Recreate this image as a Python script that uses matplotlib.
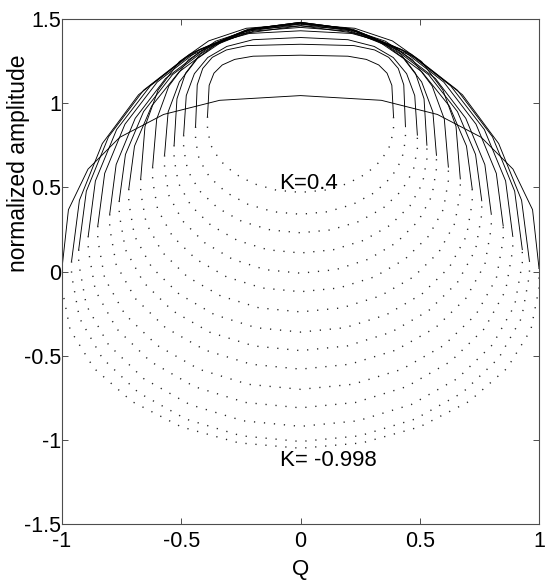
import numpy as np
import matplotlib
matplotlib.use("Agg")
import matplotlib.pyplot as plt

plt.rcParams['font.family'] = ['Liberation Sans', 'DejaVu Sans']
plt.rcParams['axes.unicode_minus'] = False

# ---- data (left half, Q <= 0; every curve is symmetric in Q) ----
# solid (stable) branch of each loop, from its lower end up to Q = 0
solid_Q = [
    [-0.39, -0.383, -0.363, -0.328, -0.276, -0.199, 0.0],
    [-0.44, -0.433, -0.410, -0.370, -0.311, -0.224, 0.0],
    [-0.49, -0.479, -0.445, -0.389, -0.309, -0.199, 0.0],
    [-0.53, -0.518, -0.482, -0.421, -0.334, -0.215, 0.0],
    [-0.57, -0.555, -0.508, -0.432, -0.327, -0.193, 0.0],
    [-0.62, -0.603, -0.552, -0.470, -0.356, -0.210, 0.0],
    [-0.67, -0.652, -0.597, -0.508, -0.385, -0.227, 0.0],
    [-0.72, -0.696, -0.624, -0.509, -0.360, -0.186, 0.0],
    [-0.76, -0.734, -0.658, -0.537, -0.380, -0.197, 0.0],
    [-0.80, -0.773, -0.693, -0.566, -0.400, -0.207, 0.0],
    [-0.85, -0.821, -0.736, -0.601, -0.425, -0.220, 0.0],
    [-0.89, -0.860, -0.771, -0.629, -0.445, -0.231, 0.0],
    [-0.93, -0.898, -0.805, -0.658, -0.465, -0.241, 0.0],
    [-0.96, -0.927, -0.831, -0.679, -0.480, -0.249, 0.0],
    [-1.00, -0.973, -0.891, -0.758, -0.574, -0.339, 0.0],
]
solid_A = [
    [0.92, 1.106, 1.178, 1.227, 1.260, 1.279, 1.285],
    [0.86, 1.109, 1.206, 1.272, 1.316, 1.342, 1.350],
    [0.81, 1.045, 1.175, 1.271, 1.337, 1.377, 1.390],
    [0.75, 1.026, 1.178, 1.290, 1.368, 1.414, 1.430],
    [0.69, 0.948, 1.126, 1.266, 1.367, 1.429, 1.450],
    [0.62, 0.905, 1.102, 1.257, 1.368, 1.437, 1.460],
    [0.55, 0.862, 1.078, 1.247, 1.370, 1.445, 1.470],
    [0.49, 0.745, 0.983, 1.186, 1.343, 1.442, 1.475],
    [0.42, 0.695, 0.950, 1.169, 1.338, 1.444, 1.480],
    [0.34, 0.635, 0.910, 1.146, 1.327, 1.441, 1.480],
    [0.27, 0.583, 0.875, 1.125, 1.318, 1.439, 1.480],
    [0.21, 0.538, 0.843, 1.104, 1.305, 1.432, 1.475],
    [0.13, 0.477, 0.800, 1.077, 1.290, 1.424, 1.470],
    [0.06, 0.423, 0.760, 1.050, 1.272, 1.412, 1.460],
    [0.02, 0.367, 0.608, 0.797, 0.933, 1.017, 1.045],
]
# dotted (unstable) branch of each loop, from the same lower end down to Q = 0
dotted_Q = [
    [-0.39, -0.39, -0.377, -0.338, -0.276, -0.195, -0.101, 0.0],
    [-0.44, -0.44, -0.425, -0.381, -0.311, -0.220, -0.114, 0.0],
    [-0.49, -0.49, -0.473, -0.424, -0.346, -0.245, -0.127, 0.0],
    [-0.53, -0.53, -0.512, -0.459, -0.375, -0.265, -0.137, 0.0],
    [-0.57, -0.57, -0.551, -0.494, -0.403, -0.285, -0.148, 0.0],
    [-0.62, -0.62, -0.599, -0.537, -0.438, -0.310, -0.161, 0.0],
    [-0.67, -0.67, -0.647, -0.580, -0.474, -0.335, -0.174, 0.0],
    [-0.72, -0.72, -0.696, -0.624, -0.509, -0.360, -0.186, 0.0],
    [-0.76, -0.76, -0.734, -0.658, -0.537, -0.380, -0.197, 0.0],
    [-0.80, -0.80, -0.773, -0.693, -0.566, -0.400, -0.207, 0.0],
    [-0.85, -0.85, -0.821, -0.736, -0.601, -0.425, -0.220, 0.0],
    [-0.89, -0.89, -0.860, -0.771, -0.629, -0.445, -0.231, 0.0],
    [-0.93, -0.93, -0.898, -0.805, -0.658, -0.465, -0.241, 0.0],
    [-0.96, -0.96, -0.927, -0.831, -0.679, -0.480, -0.249, 0.0],
    [-1.00, -1.00, -0.966, -0.866, -0.707, -0.500, -0.259, 0.0],
]
dotted_A = [
    [0.92, 0.85, 0.752, 0.660, 0.581, 0.521, 0.483, 0.47],
    [0.86, 0.78, 0.666, 0.560, 0.469, 0.399, 0.355, 0.34],
    [0.81, 0.73, 0.600, 0.480, 0.376, 0.297, 0.247, 0.23],
    [0.75, 0.67, 0.525, 0.390, 0.274, 0.185, 0.129, 0.11],
    [0.69, 0.61, 0.449, 0.300, 0.172, 0.073, 0.011, -0.01],
    [0.62, 0.54, 0.369, 0.210, 0.073, -0.032, -0.098, -0.12],
    [0.55, 0.47, 0.286, 0.115, -0.032, -0.145, -0.216, -0.24],
    [0.49, 0.41, 0.211, 0.025, -0.134, -0.257, -0.334, -0.36],
    [0.42, 0.34, 0.130, -0.065, -0.233, -0.361, -0.442, -0.47],
    [0.34, 0.26, 0.042, -0.160, -0.334, -0.467, -0.551, -0.58],
    [0.27, 0.19, -0.041, -0.255, -0.439, -0.581, -0.670, -0.70],
    [0.21, 0.13, -0.113, -0.340, -0.535, -0.684, -0.778, -0.81],
    [0.13, 0.05, -0.201, -0.435, -0.636, -0.790, -0.887, -0.92],
    [0.06, -0.02, -0.276, -0.515, -0.720, -0.877, -0.976, -1.01],
    [0.02, -0.10, -0.346, -0.575, -0.772, -0.923, -1.018, -1.05],
]
labels_text = ["K=0.4", "K= -0.998"]
labels_pos = [(-0.09, 0.52), (-0.085, -1.12)]

x_ticks = [-1, -0.5, 0, 0.5, 1]
x_tick_labels = ["-1", "-0.5", "0", "0.5", "1"]
y_ticks = [-1.5, -1, -0.5, 0, 0.5, 1, 1.5]
y_tick_labels = ["-1.5", "-1", "-0.5", "0", "0.5", "1", "1.5"]


def full(qs, as_):
    q = np.asarray(qs, float)
    a = np.asarray(as_, float)
    return np.concatenate([q, -q[-2::-1]]), np.concatenate([a, a[-2::-1]])


fig = plt.figure(figsize=(5.45, 5.8), dpi=100)
ax = fig.add_axes([62 / 545, 1 - 524 / 580, (539 - 62) / 545, (524 - 19) / 580])

for sq, sa, dq, da in zip(solid_Q, solid_A, dotted_Q, dotted_A):
    Q, A = full(sq, sa)
    ax.plot(Q, A, color='k', lw=0.65)
    Q, A = full(dq, da)
    ax.plot(Q, A, color='0.15', lw=1.0, linestyle=(0, (0.9, 6.3)))

for t, (x, y) in zip(labels_text, labels_pos):
    ax.text(x, y, t, fontsize=16, ha='left', va='center')

ax.set_xlim(-1, 1)
ax.set_ylim(-1.5, 1.5)
ax.set_xticks(x_ticks)
ax.set_xticklabels(x_tick_labels)
ax.set_yticks(y_ticks)
ax.set_yticklabels(y_tick_labels)
ax.tick_params(direction='in', top=True, right=True, length=4.5, width=0.7,
               labelsize=15.5, color='0.3')
ax.tick_params(axis='y', pad=0.5)
ax.tick_params(axis='x', pad=5)
for s in ax.spines.values():
    s.set_linewidth(0.8)
    s.set_color('0.3')
ax.set_xlabel("Q", fontsize=16, labelpad=5)
ax.set_ylabel("normalized amplitude", fontsize=16.5)
ax.yaxis.set_label_coords(-0.068, 0.715)

fig.savefig("out.png", dpi=100)
